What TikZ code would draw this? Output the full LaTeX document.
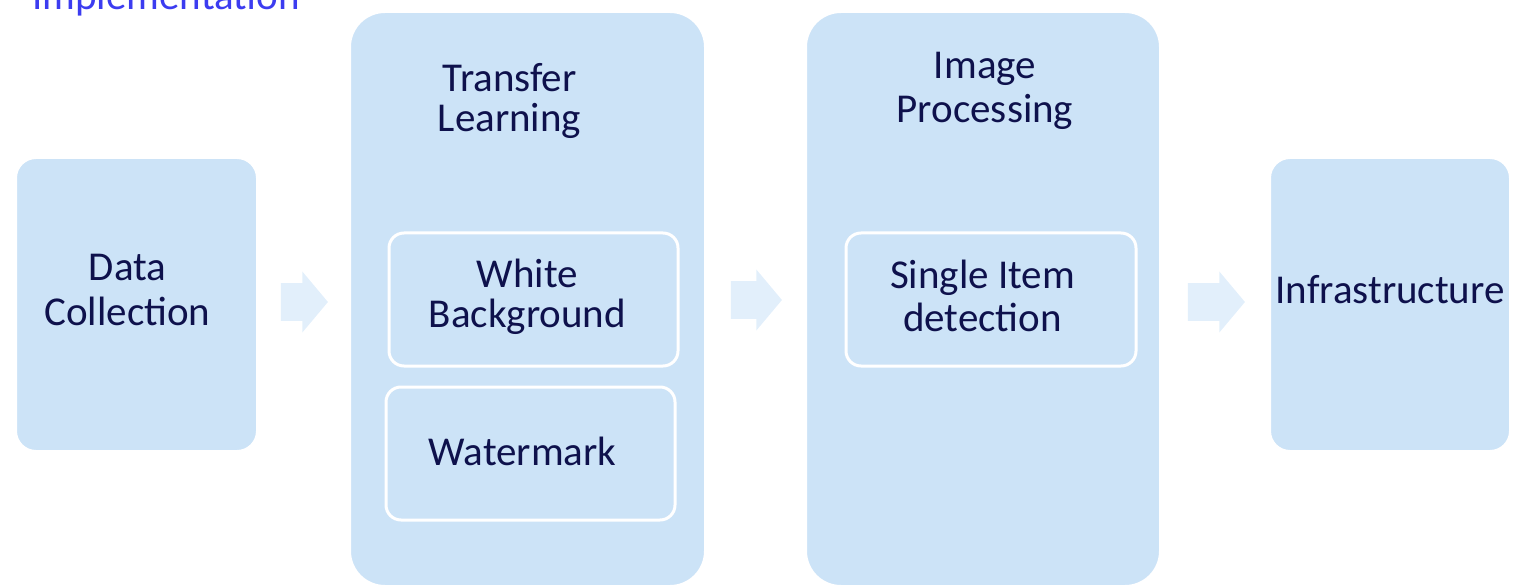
\documentclass[tikz,border=0pt]{standalone}
\usepackage{fontspec}
\setmainfont{Carlito}
\usetikzlibrary{shapes.arrows}
\definecolor{boxfill}{HTML}{CCE3F7}
\definecolor{arrowfill}{HTML}{E2EFFB}
\definecolor{ink}{HTML}{0E114C}
\definecolor{titleblue}{HTML}{3C3CF0}
\begin{document}
\begin{tikzpicture}[x=0.5pt,y=-0.5pt,
  stage/.style={draw=white, line width=1pt, fill=boxfill, rounded corners=#1, inner sep=0pt},
  substep/.style={draw=white, line width=1.5pt, fill=boxfill, rounded corners=7.5pt,
    minimum width=144.5pt, minimum height=66.5pt, inner sep=0pt},
  boxtext/.style={text=ink, font=\fontsize{20.5}{21.5}\selectfont, align=center, inner sep=0pt, anchor=base},
  flow/.style={single arrow, fill=arrowfill, draw=none, inner xsep=0pt, inner ysep=9.25pt,
    single arrow head extend=5.75pt, single arrow tip angle=100}
]
\useasboundingbox (0,0) rectangle (1514,588);

% heading, partly above the page
\node[text=titleblue, font=\fontsize{20.5}{24}\selectfont, anchor=base, inner sep=0pt] (heading) at (166,10) {Implementation};

% stage boxes
\node[stage=10pt, minimum width=120.5pt, minimum height=146.5pt] (collect) at (136.5,304.5) {};
\node[stage=17.5pt, minimum width=177.5pt, minimum height=287pt] (transfer) at (527.5,299) {};
\node[stage=17.5pt, minimum width=177pt, minimum height=287pt] (imgproc) at (983,299) {};
\node[stage=10pt, minimum width=120pt, minimum height=146.5pt] (infra) at (1390,304.5) {};

% sub-steps
\node[substep] (whitebg) at (533.5,299.5) {};
\node[substep] (watermark) at (530.5,453.5) {};
\node[substep, minimum width=145pt] (single) at (991,299.5) {};

% block arrows between stages
\node[flow, minimum height=23.5pt] (a1) at (296.5,302) {};
\node[flow, minimum height=25.5pt] (a2) at (748.5,300) {};
\node[flow, minimum height=28.5pt] (a3) at (1208.5,302) {};

% texts
\node[boxtext, font=\fontsize{20.5}{22.5}\selectfont] (tcollect) at (127.5,325) {Data\\Collection};
\node[boxtext, font=\fontsize{20.5}{20}\selectfont] (ttransfer) at (509.5,132) {Transfer\\Learning};
\node[boxtext, font=\fontsize{20.5}{20}\selectfont] (twhitebg) at (527.5,327) {White\\Background};
\node[boxtext] (twatermark) at (522.5,465) {Watermark};
\node[boxtext, font=\fontsize{20.5}{22}\selectfont] (timgproc) at (985,123) {Image\\Processing};
\node[boxtext] (tsingle) at (982.5,331) {Single Item\\detection};
\node[boxtext] (tinfra) at (1390,303) {Infrastructure};
\end{tikzpicture}
\end{document}
